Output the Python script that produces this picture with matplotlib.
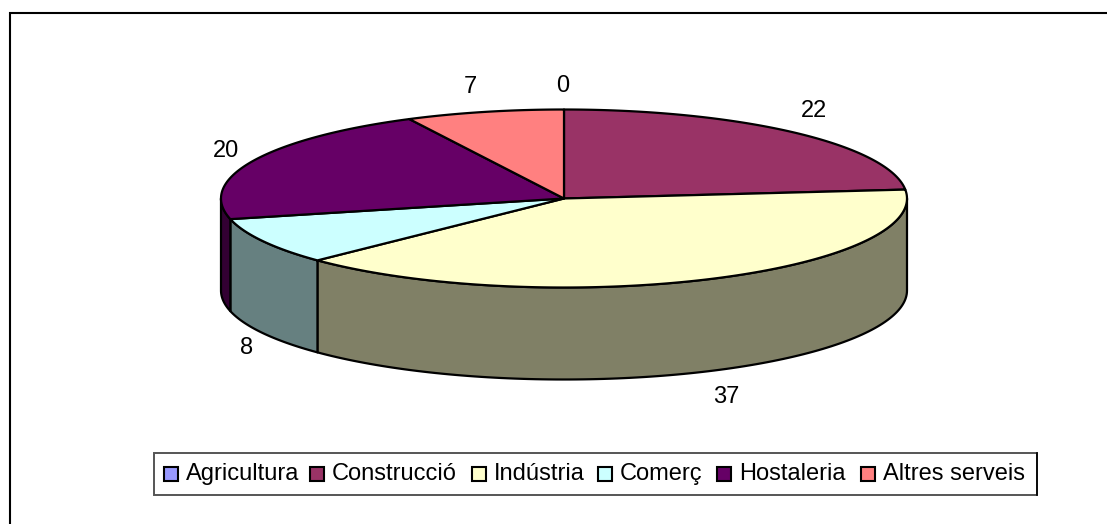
import matplotlib
matplotlib.use("Agg")
import matplotlib.pyplot as plt
import numpy as np
from matplotlib.patches import Polygon, Rectangle

categories = ["Agricultura", "Construcció", "Indústria", "Comerç", "Hostaleria", "Altres serveis"]
values = [0, 22, 37, 8, 20, 7]
colors = ["#9999FF", "#993366", "#FFFFCC", "#CCFFFF", "#660066", "#FF8080"]
side_colors = ["#4D4D80", "#4D1A33", "#808066", "#668080", "#330033", "#804040"]

plt.rcParams["font.family"] = ["Liberation Sans", "DejaVu Sans"]

W, H = 1107, 524
cx, cy, rx, ry, depth = 564, 198.5, 343, 89, 92


def punto(ang):
    # angulo en radianes, horario desde arriba
    return cx + rx * np.sin(ang), cy - ry * np.cos(ang)


fig = plt.figure(figsize=(W / 100, H / 100), dpi=100)
ax = fig.add_axes([0, 0, 1, 1])
ax.set_xlim(0, W)
ax.set_ylim(H, 0)
ax.axis("off")

# marco: solo lados izquierdo y superior
ax.plot([10, 10, W], [H, 13, 13], color="black", lw=1.5, solid_joinstyle="miter")

angulos = np.cumsum([0] + values) / sum(values) * 2 * np.pi

# lados visibles (mitad inferior de la elipse)
for i in range(len(values)):
    a0 = max(angulos[i], np.pi / 2)
    a1 = min(angulos[i + 1], 3 * np.pi / 2)
    if a1 <= a0:
        continue
    t = np.linspace(a0, a1, 120)
    x, y = punto(t)
    pts = np.r_[np.c_[x, y], np.c_[x[::-1], y[::-1] + depth]]
    ax.add_patch(Polygon(pts, closed=True, fc=side_colors[i], ec="black", lw=1.6, joinstyle="round"))

# tapa
for i in range(len(values)):
    if values[i] == 0:
        continue
    t = np.linspace(angulos[i], angulos[i + 1], 200)
    x, y = punto(t)
    pts = np.r_[[[cx, cy]], np.c_[x, y]]
    ax.add_patch(Polygon(pts, closed=True, fc=colors[i], ec="black", lw=1.6, joinstyle="round"))

# etiquetas de valores
lab_x = [563, 814, 726, 247, 226, 470]
lab_y = [92, 117, 403, 354, 157, 93]
for v, lx, ly in zip(values, lab_x, lab_y):
    ax.text(lx, ly, str(v), ha="center", va="baseline", fontsize=17, color="black")

# leyenda
ax.add_patch(Rectangle((153.5, 453), 883, 42, fc="white", ec="#555555", lw=1.4))
ax.plot([1036.5, 1036.5], [453, 495], color="black", lw=1.2)
caja_x = [164, 310, 472, 598, 717, 861]
for nom, col, bx in zip(categories, colors, caja_x):
    ax.add_patch(Rectangle((bx, 466.5), 13.5, 14, fc=col, ec="black", lw=1.5))
    ax.text(bx + 22, 480, nom, ha="left", va="baseline", fontsize=17, color="black")

plt.savefig("out.png", dpi=100)
plt.close()
